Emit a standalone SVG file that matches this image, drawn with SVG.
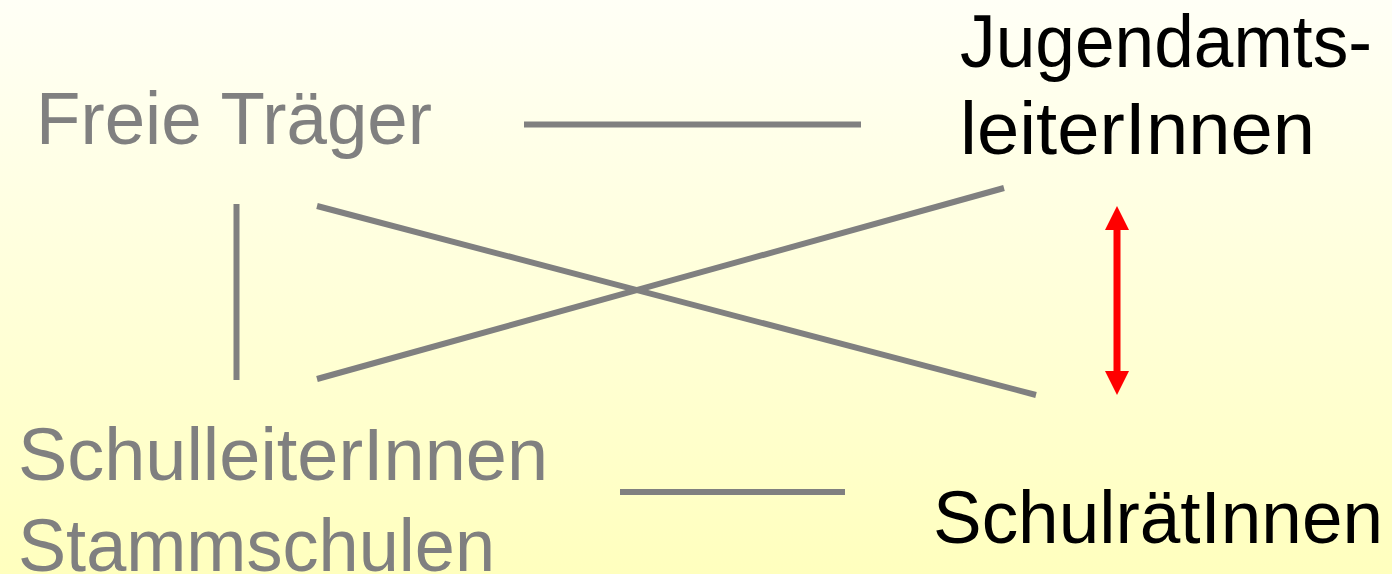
<svg xmlns="http://www.w3.org/2000/svg" width="1392" height="574" viewBox="0 0 1392 574">
  <defs>
    <linearGradient id="bg" x1="0" y1="0" x2="0" y2="1">
      <stop offset="0" stop-color="#FFFFF6"/>
      <stop offset="1" stop-color="#FFFFBE"/>
    </linearGradient>
    <marker id="ah" viewBox="0 0 24 24" refX="2" refY="12" markerWidth="24" markerHeight="24" markerUnits="userSpaceOnUse" orient="auto-start-reverse">
      <path d="M0,0 L24,12 L0,24 Z" fill="#FF0000"/>
    </marker>
  </defs>
  <style>
    .t { font-family: "Liberation Sans", Arial, sans-serif; font-size: 74px; }
    .g { fill: #808080; }
    .b { fill: #000000; }
    .c { stroke: #808080; stroke-width: 6; fill: none; }
    .r { stroke: #FF0000; stroke-width: 7; fill: none; }
  </style>
  <rect x="0" y="0" width="1392" height="574" fill="url(#bg)"/>

  <g id="connectors">
    <line class="c" x1="524" y1="124.5" x2="861" y2="124.5"/>
    <line class="c" x1="236.5" y1="204" x2="236.5" y2="380"/>
    <line class="c" x1="317" y1="206" x2="1036" y2="395"/>
    <line class="c" x1="317" y1="379" x2="1004" y2="188"/>
    <line class="c" x1="620" y1="492" x2="845" y2="492"/>
    <line class="r" x1="1117" y1="228" x2="1117" y2="373" marker-start="url(#ah)" marker-end="url(#ah)"/>
  </g>

  <g id="freie-traeger">
    <text class="t g" x="36" y="144" textLength="396" lengthAdjust="spacingAndGlyphs">Freie Träger</text>
  </g>
  <g id="jugendamtsleiter">
    <text class="t b" x="960" y="67" textLength="412" lengthAdjust="spacingAndGlyphs">Jugendamts-</text>
    <text class="t b" x="960" y="154" textLength="355" lengthAdjust="spacingAndGlyphs">leiterInnen</text>
  </g>
  <g id="schulleiter">
    <text class="t g" x="18" y="480" textLength="530" lengthAdjust="spacingAndGlyphs">SchulleiterInnen</text>
    <text class="t g" x="18" y="571" textLength="477" lengthAdjust="spacingAndGlyphs">Stammschulen</text>
  </g>
  <g id="schulraete">
    <text class="t b" x="933" y="543" textLength="450" lengthAdjust="spacingAndGlyphs">SchulrätInnen</text>
  </g>
</svg>
